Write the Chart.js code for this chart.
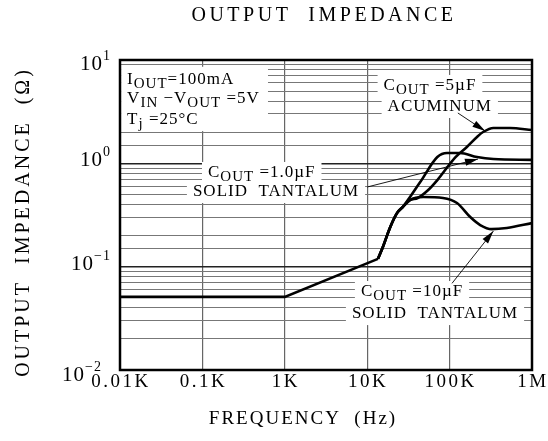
<!DOCTYPE html>
<html lang="en">
<head>
<meta charset="UTF-8">
<title>Output Impedance</title>
<style>
  body { margin: 0; background: white; }
  #chart { display: block; }
</style>
<script src="https://cdn.jsdelivr.net/npm/chart.js"></script>
</head>
<body>
<canvas id="chart" width="548" height="441"></canvas>
<script>
// frequency (Hz) and impedance (ohm)
const baseFreq = [10, 1000, 13500];
const baseZ = [0.051, 0.051, 0.119];

// steep part shared by all three capacitors
const riseFreq = [13500, 15500, 19000, 23000, 27000];
const riseZ = [0.119, 0.155, 0.241, 0.33, 0.378];

const tant10Freq = [33000, 48000, 83000, 123000, 178000, 235000, 325000, 495000, 1000000];
const tant10Z = [0.441, 0.472, 0.462, 0.413, 0.302, 0.253, 0.231, 0.237, 0.264];

const tant1Freq = [44000, 71000, 93000, 134000, 215000, 340000, 1000000];
const tant1Z = [0.659, 1.15, 1.26, 1.26, 1.15, 1.10, 1.08];

const alum5Freq = [33000, 41000, 55000, 71000, 118000, 162000, 215000, 255000, 340000, 540000, 1000000];
const alum5Z = [0.441, 0.462, 0.552, 0.689, 1.15, 1.44, 1.80, 2.01, 2.20, 2.20, 2.10];

const xTicks = [10, 100, 1000, 10000, 100000, 1000000];
const xTickLabels = ['0.01K', '0.1K', '1K', '10K', '100K', '1M'];
const yTicks = [10, 1, 0.1, 0.01];
const yTickExp = ['1', '0', '\u22121', '\u22122'];

const SERIF = '"Liberation Serif", "DejaVu Serif", serif';
const font = size => size + 'px ' + SERIF;

// text notes placed in data coordinates, [text, isSubscript]
const notes = [
  { f: 12.2, z: 5.86, align: 'left', runs: [['I'], ['OUT', 1], ['=100mA']] },
  { f: 12.2, z: 3.84, align: 'left', runs: [['V'], ['IN', 1], [' \u2212V'], ['OUT', 1], [' =5V']] },
  { f: 12.2, z: 2.40, align: 'left', runs: [['T'], ['j', 1], [' =25\u00B0C']] },
  { f: 525, z: 0.738, align: 'center', runs: [['C'], ['OUT', 1], [' =1.0\u00B5F']] },
  { f: 782, z: 0.483, align: 'center', runs: [['SOLID  TANTALUM']] },
  { f: 57800, z: 5.13, align: 'center', runs: [['C'], ['OUT', 1], [' =5\u00B5F']] },
  { f: 76000, z: 3.21, align: 'center', runs: [['ACUMINUM']] },
  { f: 35000, z: 0.052, align: 'center', runs: [['C'], ['OUT', 1], [' =10\u00B5F']] },
  { f: 66500, z: 0.0318, align: 'center', runs: [['SOLID  TANTALUM']] }
];
const arrows = [
  { from: [10000, 0.59], to: [221000, 1.10] },
  { from: [126000, 3.07], to: [270000, 2.05] },
  { from: [107000, 0.069], to: [340000, 0.221] }
];
const clearBox = { f0: 10, f1: 625, z0: 2.05, z1: 8.6 };

function pts(fs, zs) {
  return fs.map((f, i) => ({ x: f, y: zs[i] }));
}

function isDecade(v) {
  const l = Math.log10(v);
  return Math.abs(l - Math.round(l)) < 1e-6;
}

function runsWidth(ctx, runs, size) {
  let w = 0;
  runs.forEach(r => {
    ctx.font = font(r[1] ? size - 2 : size);
    w += ctx.measureText(r[0]).width;
  });
  return w;
}

function drawRuns(ctx, runs, x, y, size) {
  runs.forEach(r => {
    ctx.font = font(r[1] ? size - 2 : size);
    ctx.fillText(r[0], x, r[1] ? y + 4 : y);
    x += ctx.measureText(r[0]).width;
  });
}

const textPlugin = {
  id: 'textPlugin',
  beforeDatasetsDraw(chart) {
    const { ctx, scales: { x, y } } = chart;
    ctx.save();
    ctx.fillStyle = '#fff';
    ctx.fillRect(x.getPixelForValue(clearBox.f0) + 2, y.getPixelForValue(clearBox.z1),
      x.getPixelForValue(clearBox.f1) - x.getPixelForValue(clearBox.f0) - 2,
      y.getPixelForValue(clearBox.z0) - y.getPixelForValue(clearBox.z1));
    ctx.letterSpacing = '1px';
    ctx.textBaseline = 'alphabetic';
    ctx.textAlign = 'left';
    notes.forEach(n => {
      const w = runsWidth(ctx, n.runs, 17);
      const px = x.getPixelForValue(n.f);
      const py = y.getPixelForValue(n.z);
      const left = n.align === 'center' ? px - w / 2 : px;
      ctx.fillStyle = '#fff';
      ctx.fillRect(left - 6, py - 15, w + 12, 22);
      ctx.fillStyle = '#000';
      drawRuns(ctx, n.runs, left, py, 17);
    });
    ctx.restore();
  },
  afterDatasetsDraw(chart) {
    const { ctx, chartArea: a, scales: { x, y } } = chart;
    ctx.save();
    // arrows
    ctx.strokeStyle = '#000';
    ctx.fillStyle = '#000';
    ctx.lineWidth = 0.9;
    arrows.forEach(ar => {
      const x0 = x.getPixelForValue(ar.from[0]), y0 = y.getPixelForValue(ar.from[1]);
      const x1 = x.getPixelForValue(ar.to[0]), y1 = y.getPixelForValue(ar.to[1]);
      const ang = Math.atan2(y1 - y0, x1 - x0);
      ctx.beginPath();
      ctx.moveTo(x0, y0);
      ctx.lineTo(x1, y1);
      ctx.stroke();
      ctx.beginPath();
      ctx.moveTo(x1, y1);
      ctx.lineTo(x1 - 13 * Math.cos(ang) + 3.5 * Math.sin(ang), y1 - 13 * Math.sin(ang) - 3.5 * Math.cos(ang));
      ctx.lineTo(x1 - 13 * Math.cos(ang) - 3.5 * Math.sin(ang), y1 - 13 * Math.sin(ang) + 3.5 * Math.cos(ang));
      ctx.closePath();
      ctx.fill();
    });
    // frame
    ctx.lineWidth = 2.5;
    ctx.strokeRect(a.left, a.top, a.right - a.left, a.bottom - a.top);
    ctx.restore();
  },
  afterDraw(chart) {
    const { ctx, chartArea: a, scales: { x, y } } = chart;
    ctx.save();
    ctx.fillStyle = '#000';
    ctx.textBaseline = 'alphabetic';

    // title
    ctx.font = font(20);
    ctx.letterSpacing = '3.5px';
    ctx.textAlign = 'center';
    ctx.fillText('OUTPUT  IMPEDANCE', 324, 21);

    // x tick labels
    ctx.font = font(19);
    ctx.letterSpacing = '2.5px';
    xTicks.forEach((v, i) => {
      ctx.fillText(xTickLabels[i], x.getPixelForValue(v) + 1, a.bottom + 17);
    });

    // x title
    ctx.letterSpacing = '2px';
    ctx.fillText('FREQUENCY  (Hz)', 303, 424);

    // y tick labels: 10 with raised exponent; the lowest one sits below the axis
    ctx.letterSpacing = '1px';
    yTicks.forEach((v, i) => {
      const last = i === yTicks.length - 1;
      let py = y.getPixelForValue(v) + 3;
      if (i === 0) py += 7;
      if (last) py += 8;
      ctx.font = font(14);
      ctx.textAlign = 'left';
      const ew = ctx.measureText(yTickExp[i]).width;
      const ex = last ? a.left - 35 : a.left - 9 - ew;
      ctx.fillText(yTickExp[i], ex, py - 10);
      ctx.font = font(21);
      ctx.textAlign = 'right';
      ctx.fillText('10', ex, py);
    });

    // y title
    ctx.translate(24, 222);
    ctx.rotate(-Math.PI / 2);
    ctx.font = font(20);
    ctx.letterSpacing = '3px';
    ctx.textAlign = 'center';
    ctx.textBaseline = 'middle';
    ctx.fillText('OUTPUT  IMPEDANCE  (\u03A9)', 0, 0);
    ctx.restore();
  }
};

const line = { borderColor: '#000', borderWidth: 2.6, pointRadius: 0, fill: false };

new Chart(document.getElementById('chart'), {
  type: 'line',
  data: {
    datasets: [
      { ...line, label: 'base', data: pts(baseFreq, baseZ), tension: 0 },
      { ...line, label: 'COUT=10uF solid tantalum', data: pts(riseFreq.concat(tant10Freq), riseZ.concat(tant10Z)), cubicInterpolationMode: 'monotone' },
      { ...line, label: 'COUT=1.0uF solid tantalum', data: pts(riseFreq.concat(tant1Freq), riseZ.concat(tant1Z)), cubicInterpolationMode: 'monotone' },
      { ...line, label: 'COUT=5uF aluminum', data: pts(riseFreq.concat(alum5Freq), riseZ.concat(alum5Z)), cubicInterpolationMode: 'monotone' }
    ]
  },
  options: {
    responsive: false,
    devicePixelRatio: 1,
    animation: false,
    layout: { padding: { left: 120, right: 16, top: 60, bottom: 71 } },
    plugins: { legend: { display: false }, tooltip: { enabled: false }, title: { display: false } },
    scales: {
      x: {
        type: 'logarithmic', min: 10, max: 1000000,
        ticks: { display: false },
        border: { display: false },
        grid: {
          drawTicks: false,
          lineWidth: 1.2,
          color: c => (c.tick && isDecade(c.tick.value)) ? '#666' : 'rgba(0,0,0,0)'
        }
      },
      y: {
        type: 'logarithmic', min: 0.01, max: 10,
        ticks: { display: false },
        border: { display: false },
        grid: {
          drawTicks: false,
          lineWidth: c => (c.tick && isDecade(c.tick.value)) ? 1.6 : 1.1,
          color: c => (c.tick && isDecade(c.tick.value)) ? '#222' : '#777'
        }
      }
    }
  },
  plugins: [textPlugin]
});
</script>
</body>
</html>
